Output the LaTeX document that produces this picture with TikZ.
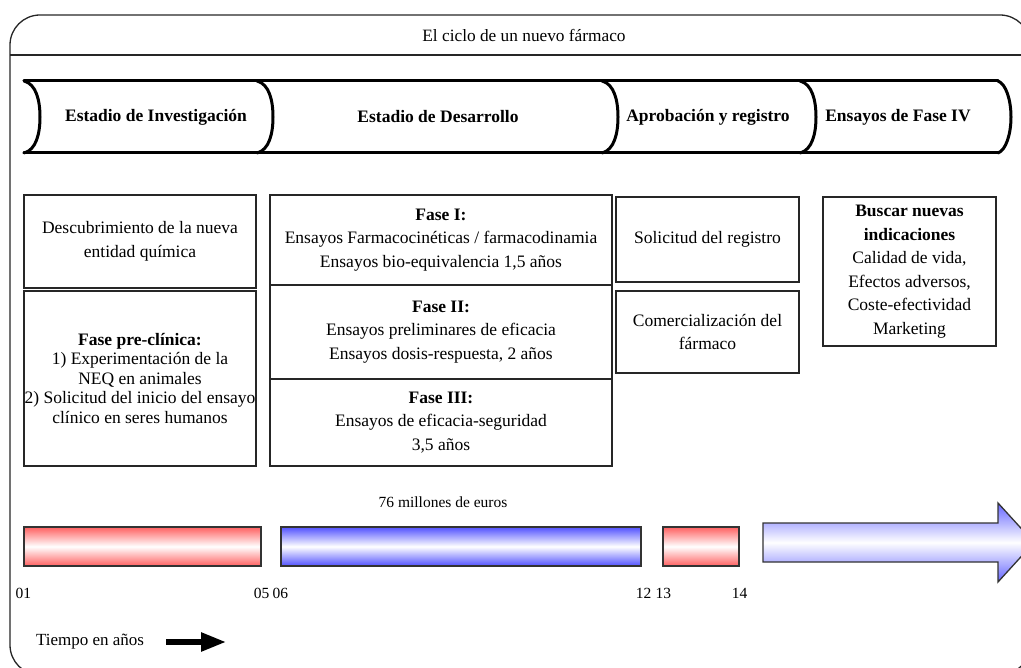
\documentclass[tikz,border=0pt]{standalone}
\usepackage{fontspec}
\setmainfont{Liberation Serif}
\usetikzlibrary{arrows.meta}
\begin{document}
\begin{tikzpicture}[x=1pt,y=-1pt,
  txt/.style={font=\fontsize{17.5}{23.5}\selectfont, align=center, inner sep=0pt},
  small/.style={font=\fontsize{15.5}{18}\selectfont, inner sep=0pt},
  infobox/.style={txt, draw=black!85, line width=1.3pt},
  scroll/.style={line width=3pt, line cap=round, line join=round},
  redbar/.style={draw=black!80, line width=1.3pt, inner sep=0pt,
    top color=red!62, bottom color=red!62, middle color=white},
  bluebar/.style={draw=black!80, line width=1.3pt, inner sep=0pt,
    top color=blue!68, bottom color=blue!68, middle color=white},
  frame/.style={draw=black!85, line width=1.3pt}
]
\useasboundingbox (0,0) rectangle (1021,668);

% outer frame with title strip
\draw[frame, rounded corners=30pt] (10,675) rectangle (1030,15);
\draw[frame] (10,55) -- (1030,55);
\node[txt, font=\fontsize{17.3}{20}\selectfont] (title) at (524,35) {El ciclo de un nuevo fármaco};

% scroll banner with four stages
\draw[scroll] (24,81) -- (998,81);
\draw[scroll] (24,153) -- (998,153);
\foreach \xa in {24,257,602,800}{
  \draw[scroll] (\xa,81) .. controls (\xa+12,84) and (\xa+16,100) .. (\xa+16,117)
                          .. controls (\xa+16,134) and (\xa+12,150) .. (\xa,153);
}
\draw[scroll] (998,81) .. controls (1006,84) and (1011,100) .. (1011,117)
                       .. controls (1011,134) and (1006,150) .. (998,153);
\node[txt] (st1) at (156,117) {\textbf{Estadio de Investigación}};
\node[txt] (st2) at (438,117) {\textbf{Estadio de Desarrollo}};
\node[txt] (st3) at (708,117) {\textbf{Aprobación y registro}};
\node[txt] (st4) at (898,117) {\textbf{Ensayos de Fase IV}};

% stage contents
\node[infobox, minimum width=232pt, minimum height=93pt] (desc) at (140,241.5)
  {Descubrimiento de la nueva\\entidad química};
\node[infobox, minimum width=232pt, minimum height=175pt,
      font=\fontsize{17.5}{19.5}\selectfont] (precl) at (140,378.5)
  {\textbf{Fase pre-clínica:}\\1) Experimentación de la\\NEQ en animales\\2) Solicitud del inicio del ensayo\\clínico en seres humanos};

\node[infobox, minimum width=342pt, minimum height=90pt] (f1) at (441,240)
  {\textbf{Fase I:}\\Ensayos Farmacocinéticas / farmacodinamia\\Ensayos bio-equivalencia 1,5 años};
\node[infobox, minimum width=342pt, minimum height=94pt] (f2) at (441,332)
  {\textbf{Fase II:}\\Ensayos preliminares de eficacia\\Ensayos dosis-respuesta, 2 años};
\node[infobox, minimum width=342pt, minimum height=87pt] (f3) at (441,422.5)
  {\textbf{Fase III:}\\Ensayos de eficacia-seguridad\\3,5 años};

\node[infobox, minimum width=183pt, minimum height=85pt] (reg) at (707.5,239.5)
  {Solicitud del registro};
\node[infobox, minimum width=183pt, minimum height=82pt] (com) at (707.5,332)
  {Comercialización del\\fármaco};

\node[infobox, minimum width=173pt, minimum height=149pt] (f4) at (909.5,271.5)
  {\textbf{Buscar nuevas}\\\textbf{indicaciones}\\Calidad de vida,\\Efectos adversos,\\Coste-efectividad\\Marketing};

% cost and timeline
\node[small] (cost) at (443,502) {76 millones de euros};

\node[redbar, minimum width=237pt, minimum height=39pt] (bar1) at (142.5,546.5) {};
\node[bluebar, minimum width=360pt, minimum height=39pt] (bar2) at (461,546.5) {};
\node[redbar, minimum width=76pt, minimum height=39pt] (bar3) at (701,546.5) {};
\draw[draw=black!80, line width=1.3pt, line join=miter,
      top color=blue!60, bottom color=blue!60, middle color=white]
  (763,523) -- (998,523) -- (998,503) -- (1034,542.5) -- (998,582)
  -- (998,562) -- (763,562) -- cycle;

\node[small] (y01) at ([yshift=-27pt]bar1.south west) {01};
\node[small] (y05) at ([yshift=-27pt]bar1.south east) {05};
\node[small] (y06) at ([yshift=-27pt]bar2.south west) {06};
\node[small] (y12) at ([yshift=-27pt,xshift=2pt]bar2.south east) {12};
\node[small] (y13) at ([yshift=-27pt,xshift=1pt]bar3.south west) {13};
\node[small] (y14) at ([yshift=-27pt]bar3.south east) {14};

% time legend
\node[txt, font=\fontsize{17}{20}\selectfont] (tiempo) at (90,642) {Tiempo en años};
\coordinate (ta) at (166,642);
\coordinate (tb) at (226,642);
\draw[line width=5.5pt, -{Triangle[length=25pt,width=18pt]}] (ta) -- (tb);
\end{tikzpicture}
\end{document}
